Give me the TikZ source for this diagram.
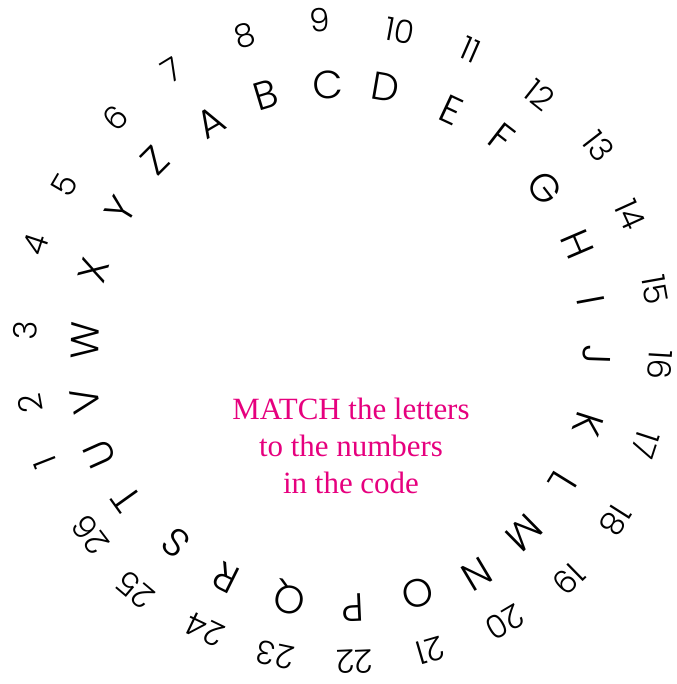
\documentclass[tikz,border=0pt]{standalone}
\usepackage{fontspec}
\usepackage{xcolor}
\newfontfamily\wheelfont{Poppins}[UprightFont=* Light]
\newfontfamily\msgfont{Liberation Serif}
\definecolor{matchpink}{RGB}{230,0,126}

\begin{document}
\begin{tikzpicture}[x=0.025cm,y=0.025cm,
    letter/.style={font=\wheelfont\fontsize{28}{28}\selectfont, inner sep=0pt},
    number/.style={font=\wheelfont\fontsize{23}{23}\selectfont, inner sep=0pt}]

\useasboundingbox (-341,-338) rectangle (336,346);

% inner ring: letters
\foreach \t/\a/\r in {A/120.3/259,B/106.8/262,C/92.9/261,D/80.3/262,E/65.0/260,
    F/52.3/263,G/37.8/258,H/23.2/257,I/10.4/254,J/-2.0/256,K/-17.7/259,
    L/-31.7/261,M/-45.5/262,N/-59.2/266,O/-72.7/259,P/-87.4/262,Q/-101.4/257,
    R/-116.4/259,S/-130.0/257,T/-144.4/264,U/-155.8/265,V/-168.0/261,
    W/178.7/256,X/163.0/259,Y/148.4/259,Z/135.0/263} {
    \node[letter, rotate=\a-90] (L\t) at (\a:\r) {\t};
}

% outer ring: numbers
\foreach \n/\a/\r in {1/-158.6/318,2/-169.6/316,3/177.1/316,4/161.7/322,
    5/149.7/320,6/134.7/321,7/121.5/324,8/107.2/325,9/93.7/327,10/79.4/321,
    11/66.4/323,12/51.6/320,13/37.8/326,14/24.4/318,15/10.1/319,16/-3.4/320,
    17/-18.0/320,18/-32.4/325,19/-45.6/326,20/-59.3/321,21/-73.7/317,
    22/-87.5/316,23/-102.0/316,24/-115.6/315,25/-130.2/319,26/-143.0/314} {
    \node[number, rotate=\a-90] (N\n) at (\a:\r) {\n};
}

\node[align=center, text=matchpink, font=\msgfont\fontsize{22}{26.2}\selectfont]
    (msg) at (10,-100) {MATCH the letters\\to the numbers\\in the code};
\end{tikzpicture}
\end{document}
